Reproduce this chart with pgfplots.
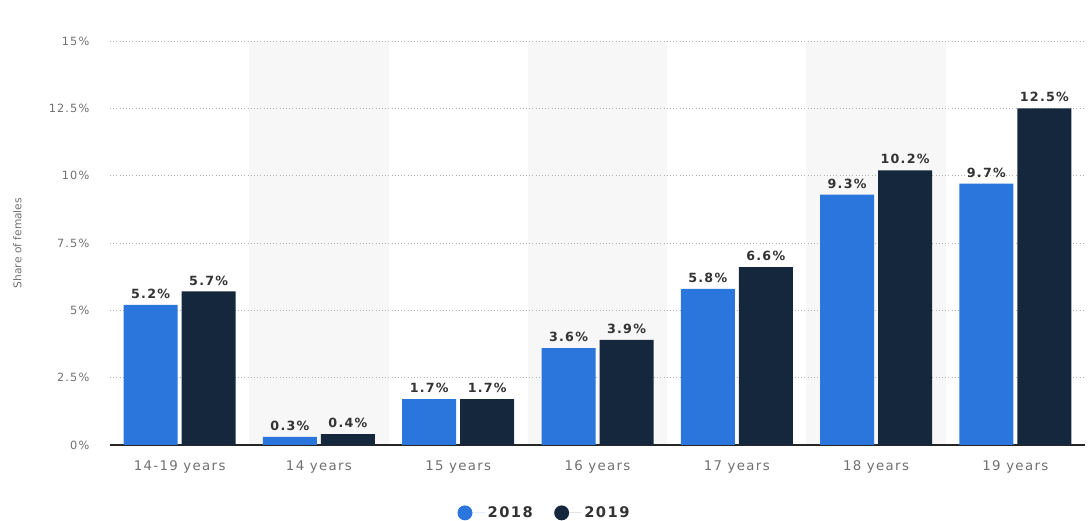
\documentclass[border=0pt]{standalone}
\usepackage{pgfplots}
\pgfplotsset{compat=1.18}
\usepackage{fontspec}
\setmainfont{DejaVu Sans}
\newfontfamily\spaced[LetterSpace=10]{DejaVu Sans}
\newfontfamily\plainf{DejaVu Sans}
\definecolor{cblue}{HTML}{2A76DD}
\definecolor{cnavy}{HTML}{14273D}
\definecolor{band}{HTML}{F7F7F7}
\definecolor{tickgray}{HTML}{707070}
\definecolor{valgray}{HTML}{333333}
\begin{document}
\begin{tikzpicture}
\begin{axis}[
  at={(82.5pt,57pt)}, anchor=south west,
  scale only axis, width=731.25pt, height=303pt,
  set layers,
  ybar=3pt, bar width=40.5pt,
  xmin=-0.5, xmax=6.5, ymin=0, ymax=15,
  xtick={0,1,2,3,4,5,6},
  xticklabels={14-19 years,14 years,15 years,16 years,17 years,18 years,19 years},
  ytick={0,2.5,5,7.5,10,12.5,15},
  yticklabels={0\%,2.5\%,5\%,7.5\%,10\%,12.5\%,15\%},
  major tick length=0pt,
  axis x line*=bottom, axis y line*=left,
  x axis line style={draw=black!85, line width=0.9pt, -},
  y axis line style={draw=none},
  ymajorgrids, grid style={dotted, black!30, line width=0.45pt},
  xticklabel style={font=\spaced\fontsize{10}{12}\selectfont, text=tickgray, yshift=-8pt},
  yticklabel style={font=\spaced\fontsize{8.5}{10}\selectfont, text=tickgray, xshift=-12pt},
  ylabel={Share of females},
  ylabel style={at={(axis description cs:-0.095,0.5)}, anchor=center, font=\plainf\fontsize{8}{10}\selectfont, text=tickgray},
  /pgf/number format/assume math mode=true,
  nodes near coords={\pgfmathprintnumber[fixed,zerofill,precision=1,assume math mode=true]{\pgfplotspointmeta}\%},
  every node near coord/.append style={font=\spaced\bfseries\fontsize{9.5}{11}\selectfont, text=valgray, inner sep=4.5pt},
  legend style={at={(axis description cs:0.446,-0.168)}, anchor=center, draw=none, fill=none,
     font=\spaced\bfseries\fontsize{11}{13}\selectfont, text=valgray,
     legend columns=2, /tikz/every even column/.append style={column sep=14pt}},
  legend image code/.code={\fill[#1] (0pt,0pt) circle (5.6pt); \path (0pt,0pt) -- (15pt,0pt);},
]
\begin{pgfonlayer}{axis background}
\fill[band] (axis cs:0.5,0) rectangle (axis cs:1.5,15);
\fill[band] (axis cs:2.5,0) rectangle (axis cs:3.5,15);
\fill[band] (axis cs:4.5,0) rectangle (axis cs:5.5,15);
\end{pgfonlayer}
\addplot[fill=cblue, draw=none] coordinates {(0,5.2) (1,0.3) (2,1.7) (3,3.6) (4,5.8) (5,9.3) (6,9.7)};
\addplot[fill=cnavy, draw=none] coordinates {(0,5.7) (1,0.4) (2,1.7) (3,3.9) (4,6.6) (5,10.2) (6,12.5)};
\legend{2018,2019}
\end{axis}
\pgfresetboundingbox
\path[use as bounding box] (0,0) rectangle (819pt,390.75pt);
\end{tikzpicture}
\end{document}
